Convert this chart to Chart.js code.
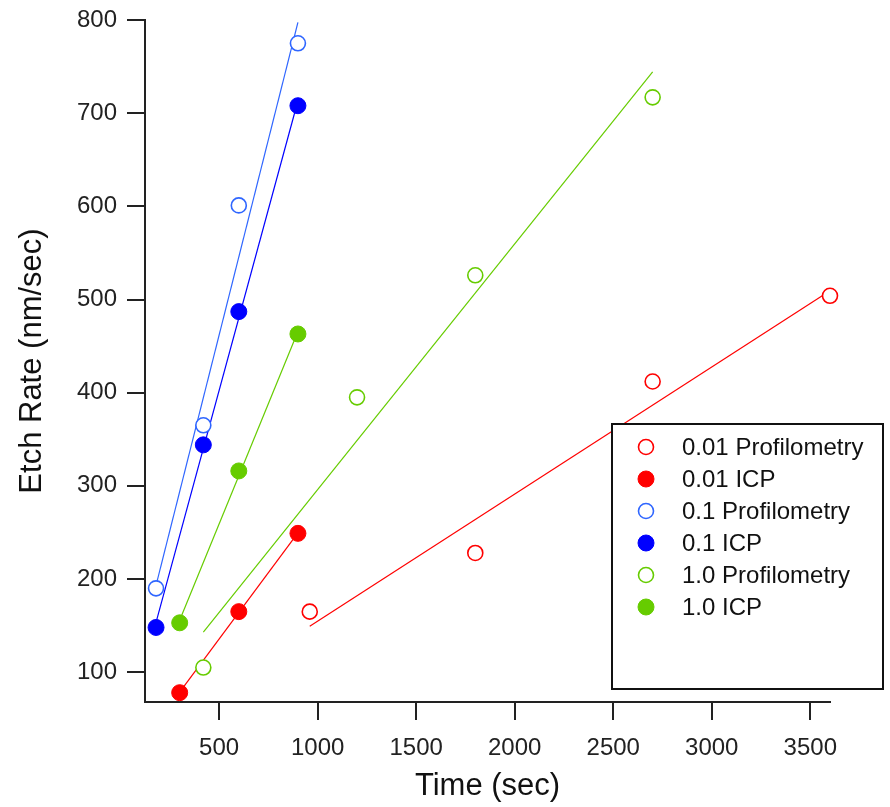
<!DOCTYPE html>
<html>
<head>
<meta charset="utf-8">
<script src="https://cdn.jsdelivr.net/npm/chart.js@4.4.1/dist/chart.umd.min.js"></script>
<style>
  html, body { margin: 0; padding: 0; background: #fff; }
  #wrap { width: 890px; height: 807px; }
</style>
</head>
<body>
<div id="wrap"><canvas id="chart" width="890" height="807"></canvas></div>
<script>
// ── Data ──────────────────────────────────────────────────────────────────
const prof001X = [960, 1800, 2700, 3600]
const prof001Y = [165, 228, 412, 504]
const icp001X  = [300, 600, 900]
const icp001Y  = [78, 165, 249]
const prof01X  = [180, 420, 600, 900]
const prof01Y  = [190, 365, 601, 775]
const icp01X   = [180, 420, 600, 900]
const icp01Y   = [148, 344, 487, 708]
const prof10X  = [420, 1200, 1800, 2700]
const prof10Y  = [105, 395, 526, 717]
const icp10X   = [300, 600, 900]
const icp10Y   = [153, 316, 463]

const xTicks = [500, 1000, 1500, 2000, 2500, 3000, 3500]
const yTicks = [100, 200, 300, 400, 500, 600, 700, 800]

const RED = "#ff0000", BLUE_P = "#2f66ff", BLUE_I = "#0000ff", GREEN = "#66cc00"
const FONT = "'Liberation Sans', Arial, sans-serif"

// ── Helpers ───────────────────────────────────────────────────────────────
const pts = (xs, ys) => xs.map((x, i) => ({ x, y: ys[i] }))

// least-squares fit drawn across the data's x range
function fitLine(xs, ys) {
  const n = xs.length
  const mx = xs.reduce((a, b) => a + b, 0) / n
  const my = ys.reduce((a, b) => a + b, 0) / n
  let sxy = 0, sxx = 0
  xs.forEach((x, i) => { sxy += (x - mx) * (ys[i] - my); sxx += (x - mx) ** 2 })
  const k = sxy / sxx, b = my - k * mx
  const x0 = Math.min(...xs), x1 = Math.max(...xs)
  return [{ x: x0, y: k * x0 + b }, { x: x1, y: k * x1 + b }]
}

function series(label, xs, ys, color, filled) {
  return {
    label, data: pts(xs, ys), showLine: false, order: 1, inLegend: true, clip: false,
    pointStyle: "circle", pointRadius: filled ? 8 : 7.5,
    pointBackgroundColor: filled ? color : "#ffffff",
    pointBorderColor: color, pointBorderWidth: filled ? 1 : 1.6,
    filled
  }
}

function fit(xs, ys, color) {
  return {
    label: "", data: fitLine(xs, ys), showLine: true, order: 2, clip: false,
    borderColor: color, borderWidth: 1.2, pointRadius: 0, fill: false
  }
}

const datasets = [
  series("0.01 Profilometry", prof001X, prof001Y, RED, false),
  series("0.01 ICP", icp001X, icp001Y, RED, true),
  series("0.1 Profilometry", prof01X, prof01Y, BLUE_P, false),
  series("0.1 ICP", icp01X, icp01Y, BLUE_I, true),
  series("1.0 Profilometry", prof10X, prof10Y, GREEN, false),
  series("1.0 ICP", icp10X, icp10Y, GREEN, true),
  fit(prof001X, prof001Y, RED),
  fit(icp001X, icp001Y, RED),
  fit(prof01X, prof01Y, BLUE_P),
  fit(icp01X, icp01Y, BLUE_I),
  fit(prof10X, prof10Y, GREEN),
  fit(icp10X, icp10Y, GREEN)
]

// ── Boxed legend inside the plot ─────────────────────────────────────────
const boxLegend = {
  id: "boxLegend",
  afterDraw(chart) {
    const ctx = chart.ctx
    const box = { x: 612, y: 424, w: 271, h: 265 }
    ctx.save()
    ctx.fillStyle = "#fff"
    ctx.fillRect(box.x, box.y, box.w, box.h)
    ctx.strokeStyle = "#111"
    ctx.lineWidth = 2
    ctx.strokeRect(box.x, box.y, box.w, box.h)
    ctx.font = `24px ${FONT}`
    ctx.textBaseline = "middle"
    ctx.fillStyle = "#111"
    chart.data.datasets.filter(d => d.inLegend).forEach((d, i) => {
      const cy = box.y + 23 + i * 32
      ctx.beginPath()
      ctx.arc(646, cy, d.filled ? 8 : 7.5, 0, Math.PI * 2)
      ctx.fillStyle = d.pointBackgroundColor
      ctx.fill()
      ctx.lineWidth = d.pointBorderWidth
      ctx.strokeStyle = d.pointBorderColor
      ctx.stroke()
      ctx.fillStyle = "#111"
      ctx.fillText(d.label, 682, cy + 1)
    })
    ctx.restore()
  }
}

const axisCommon = {
  grid: { display: true, drawOnChartArea: false, drawTicks: true, tickLength: 18, color: "#222", lineWidth: 2 },
  border: { display: true, color: "#222", width: 2 },
  ticks: { color: "#222", font: { family: FONT, size: 24 }, callback: v => String(v) },
  title: { display: true, color: "#111", font: { family: FONT, size: 31 } }
}

new Chart(document.getElementById("chart"), {
  type: "scatter",
  data: { datasets },
  options: {
    responsive: false,
    animation: false,
    layout: { padding: { top: 20, right: 60, left: 0, bottom: 0 } },
    plugins: { legend: { display: false }, tooltip: { enabled: false } },
    scales: {
      x: {
        ...axisCommon,
        type: "linear", min: 124, max: 3600,
        ticks: { ...axisCommon.ticks, padding: 14, maxRotation: 0 },
        title: { ...axisCommon.title, text: "Time (sec)", padding: { top: 0, bottom: 2 } },
        afterBuildTicks: s => { s.ticks = xTicks.map(v => ({ value: v })) },
        afterFit: s => { s.height = 105; s.paddingLeft = 0; s.paddingRight = 0 }
      },
      y: {
        ...axisCommon,
        type: "linear", min: 68, max: 800,
        ticks: { ...axisCommon.ticks, padding: 10 },
        title: { ...axisCommon.title, text: "Etch Rate (nm/sec)", padding: { top: 14, bottom: 0 } },
        afterBuildTicks: s => { s.ticks = yTicks.map(v => ({ value: v })) },
        afterFit: s => { s.width = 145; s.paddingTop = 0; s.paddingBottom = 0 }
      }
    }
  },
  plugins: [boxLegend]
})
</script>
</body>
</html>
